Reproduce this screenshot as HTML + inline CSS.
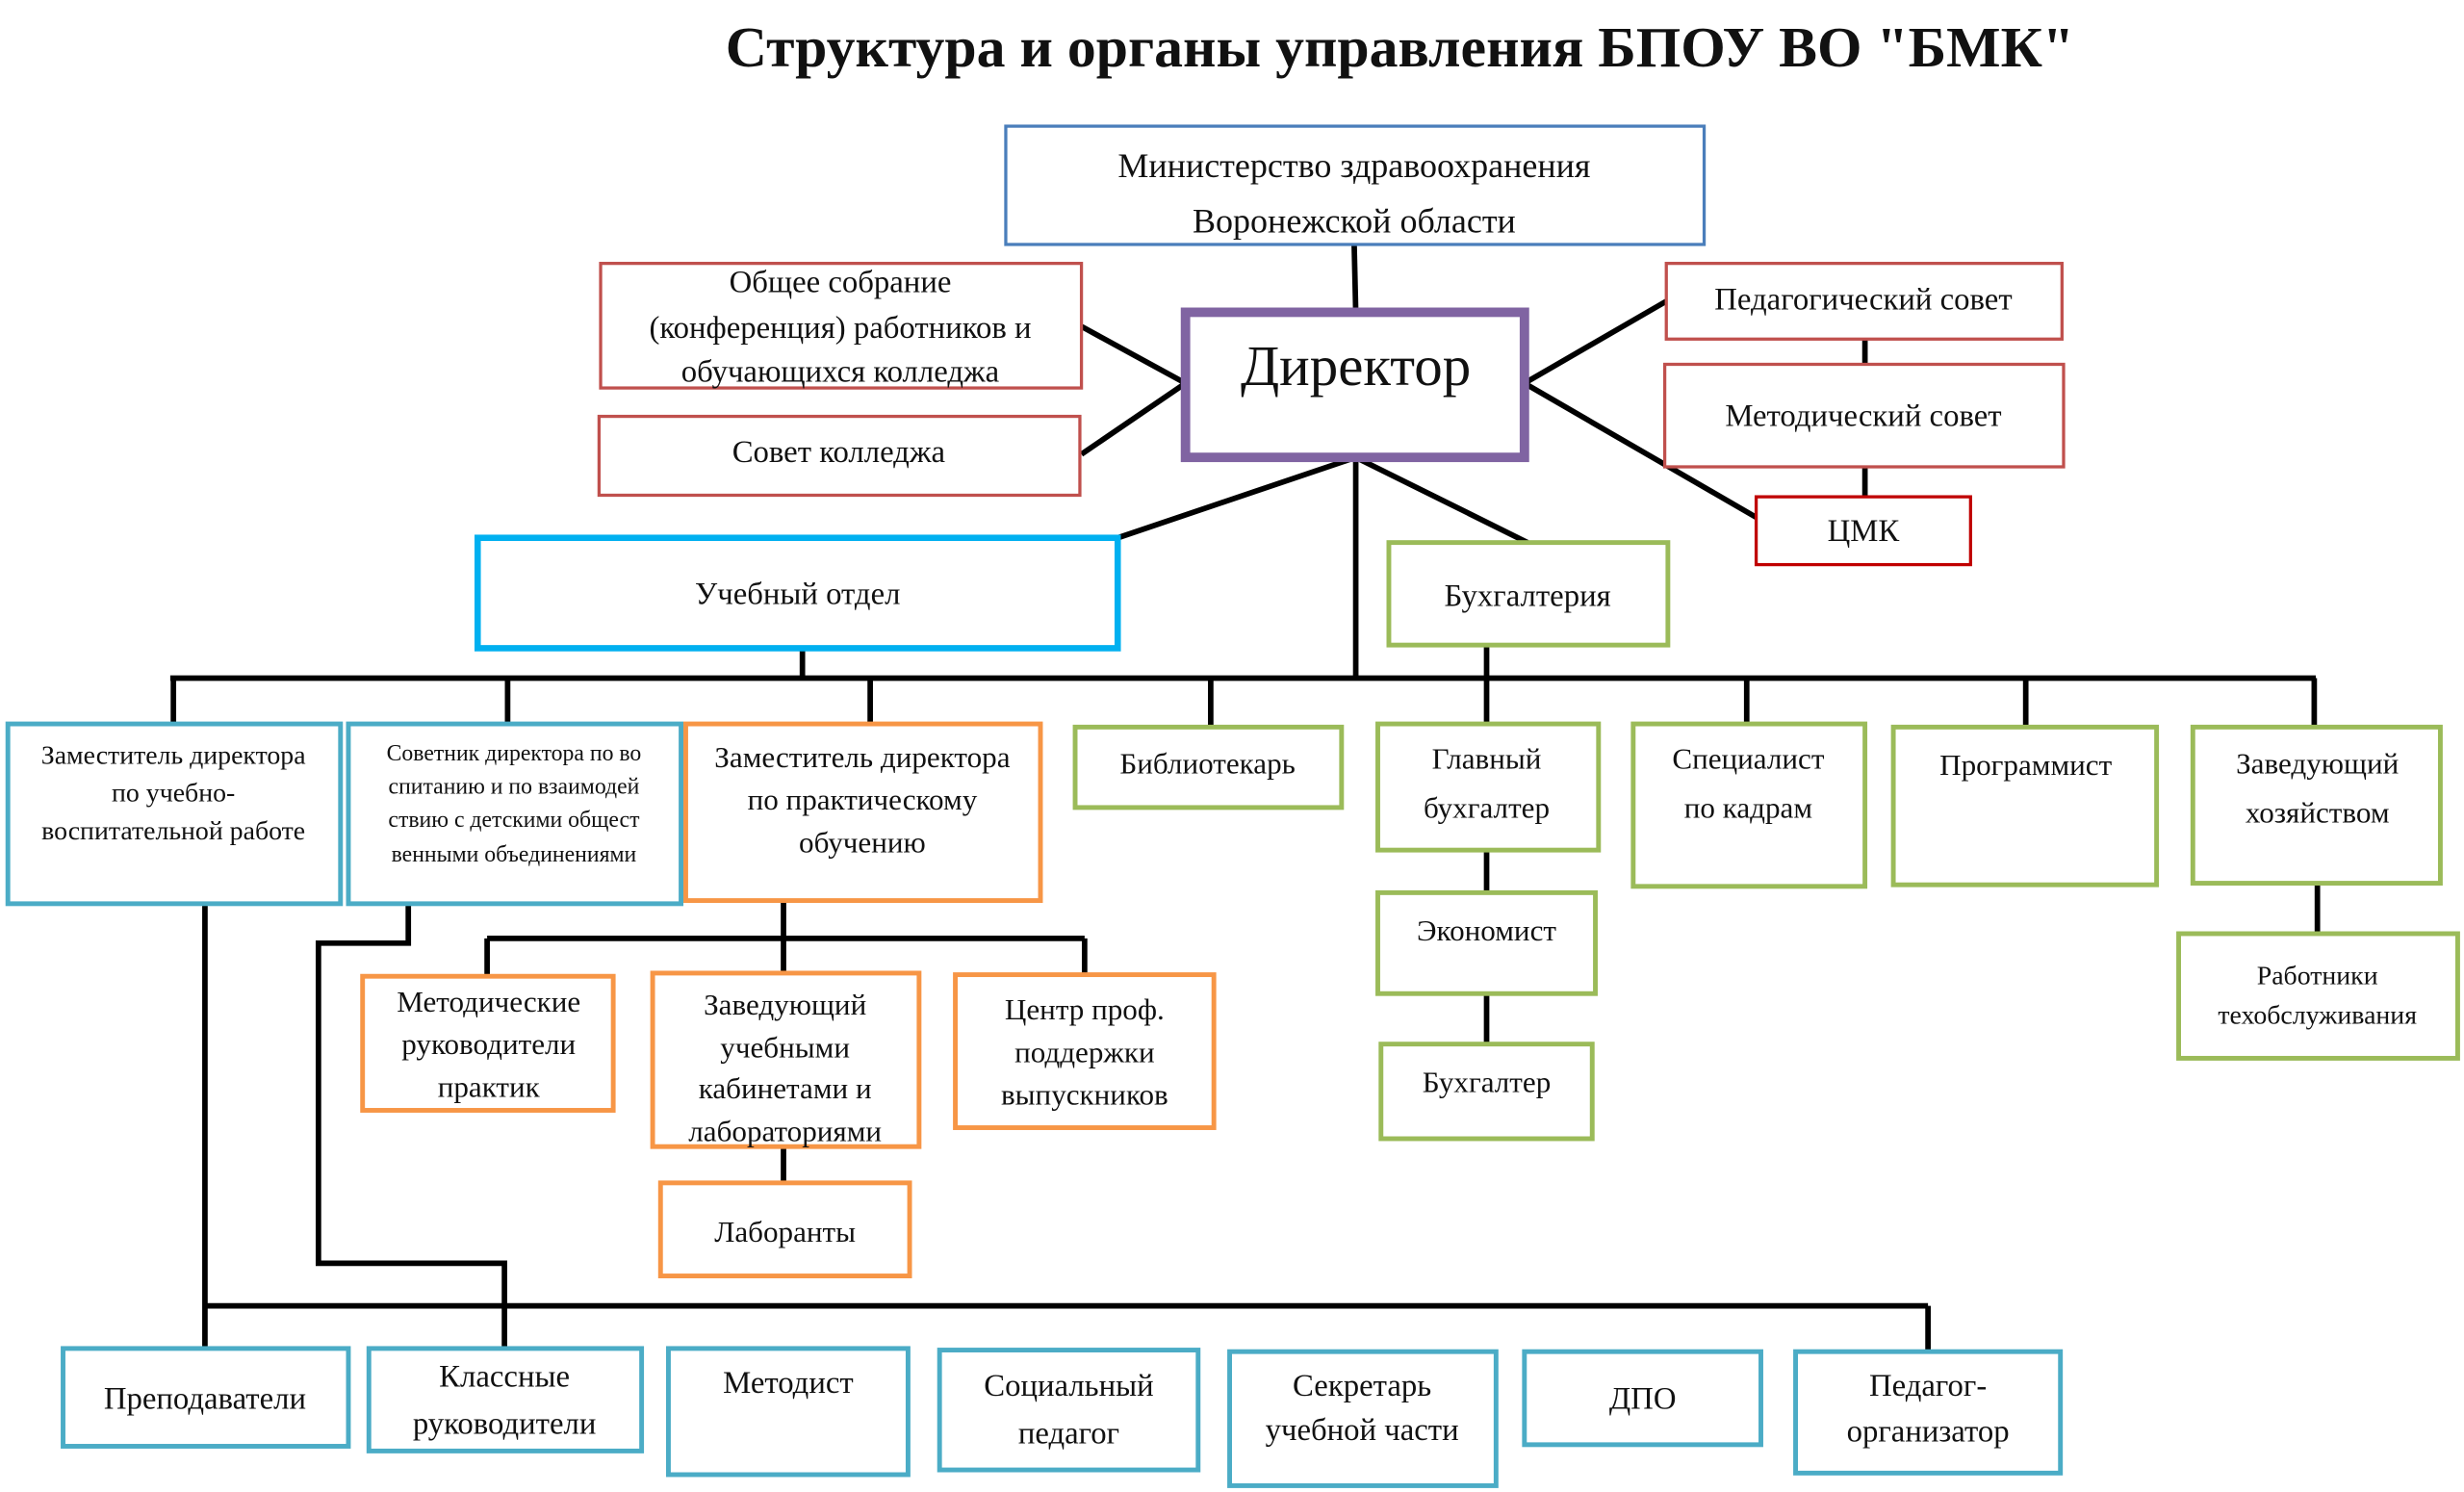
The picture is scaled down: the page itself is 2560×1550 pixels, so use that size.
<!DOCTYPE html>
<html><head><meta charset="utf-8"><style>
html,body{margin:0;padding:0;background:#fff;width:2560px;height:1550px;overflow:hidden}
svg{display:block}
text{font-family:"Liberation Serif","DejaVu Serif",serif;fill:#111;text-anchor:middle;dominant-baseline:central}
</style></head><body>
<svg width="2560" height="1550" viewBox="0 0 1563 946" preserveAspectRatio="none" xmlns="http://www.w3.org/2000/svg">
<rect width="1563" height="946" fill="#fff"/>
<text x="888" y="30" font-size="36.5" font-weight="bold">Структура и органы управления БПОУ ВО "БМК"</text>

<g stroke="#000" stroke-width="3.5" fill="none">
<line x1="859" y1="155" x2="860" y2="198"/>
<line x1="752" y1="243" x2="686" y2="207"/>
<line x1="752" y1="243" x2="686" y2="288"/>
<line x1="967" y1="243" x2="1057" y2="191"/>
<line x1="967" y1="243" x2="1114" y2="328"/>
<line x1="1183" y1="215" x2="1183" y2="231"/>
<line x1="1183" y1="296" x2="1183" y2="315"/>
<line x1="860" y1="290" x2="709" y2="341"/>
<line x1="860" y1="290" x2="969" y2="344"/>
<line x1="860" y1="290" x2="860" y2="430"/>
<line x1="108" y1="430" x2="1469" y2="430"/>
<line x1="509" y1="411" x2="509" y2="430"/>
<line x1="943" y1="409" x2="943" y2="459"/>
<line x1="110" y1="430" x2="110" y2="459"/>
<line x1="322" y1="430" x2="322" y2="459"/>
<line x1="552" y1="430" x2="552" y2="459"/>
<line x1="768" y1="430" x2="768" y2="461"/>
<line x1="1108" y1="430" x2="1108" y2="459"/>
<line x1="1285" y1="430" x2="1285" y2="461"/>
<line x1="1468" y1="430" x2="1468" y2="461"/>
<line x1="943" y1="539" x2="943" y2="566"/>
<line x1="943" y1="630" x2="943" y2="662"/>
<line x1="1470" y1="560" x2="1470" y2="592"/>
<line x1="497" y1="571" x2="497" y2="617"/>
<line x1="309" y1="595" x2="688" y2="595"/>
<line x1="309" y1="595" x2="309" y2="619"/>
<line x1="688" y1="595" x2="688" y2="618"/>
<line x1="497" y1="727" x2="497" y2="750"/>
<line x1="130" y1="573" x2="130" y2="855"/>
<polyline points="259,573 259,598 202,598 202,801 320,801 320,855"/>
<line x1="130" y1="828" x2="1223" y2="828"/>
<line x1="1223" y1="828" x2="1223" y2="857"/>
</g>

<g fill="#fff">
<rect x="638" y="80" width="443" height="75" stroke="#4a7ebb" stroke-width="2"/>
<rect x="752" y="198" width="215" height="92" stroke="#8064a2" stroke-width="6"/>
<rect x="381" y="167" width="305" height="79" stroke="#c0504d" stroke-width="2"/>
<rect x="380" y="264" width="305" height="50" stroke="#c0504d" stroke-width="2"/>
<rect x="1057" y="167" width="251" height="48" stroke="#c0504d" stroke-width="2"/>
<rect x="1056" y="231" width="253" height="65" stroke="#c0504d" stroke-width="2"/>
<rect x="1114" y="315" width="136" height="43" stroke="#c00000" stroke-width="2"/>
<rect x="303" y="341" width="406" height="70" stroke="#00b0f0" stroke-width="4"/>
<rect x="881" y="344" width="177" height="65" stroke="#9bbb59" stroke-width="3"/>
<g stroke="#4bacc6" stroke-width="3">
<rect x="5" y="459" width="211" height="114"/>
<rect x="221" y="459" width="211" height="114"/>
<rect x="40" y="855" width="181" height="62"/>
<rect x="234" y="855" width="173" height="65"/>
<rect x="424" y="855" width="152" height="80"/>
<rect x="596" y="856" width="164" height="76"/>
<rect x="780" y="857" width="169" height="85"/>
<rect x="967" y="857" width="150" height="59"/>
<rect x="1139" y="857" width="168" height="77"/>
</g>
<g stroke="#f79646" stroke-width="3">
<rect x="435" y="459" width="225" height="112"/>
<rect x="230" y="619" width="159" height="85"/>
<rect x="414" y="617" width="169" height="110"/>
<rect x="606" y="618" width="164" height="97"/>
<rect x="419" y="750" width="158" height="59"/>
</g>
<g stroke="#9bbb59" stroke-width="3">
<rect x="682" y="461" width="169" height="51"/>
<rect x="874" y="459" width="140" height="80"/>
<rect x="1036" y="459" width="147" height="103"/>
<rect x="1201" y="461" width="167" height="100"/>
<rect x="1391" y="461" width="157" height="99"/>
<rect x="1382" y="592" width="177" height="79"/>
<rect x="874" y="566" width="138" height="64"/>
<rect x="876" y="662" width="134" height="60"/>
</g>
</g>

<g font-size="22">
<text x="859" y="105">Министерство здравоохранения</text>
<text x="859" y="140">Воронежской области</text>
</g>
<text x="860" y="232" font-size="36">Директор</text>
<g font-size="20">
<text x="533" y="179">Общее собрание</text>
<text x="533" y="208">(конференция) работников и</text>
<text x="533" y="236">обучающихся колледжа</text>
<text x="532" y="287">Совет колледжа</text>
<text x="1182" y="190">Педагогический совет</text>
<text x="1182" y="264">Методический совет</text>
<text x="1182" y="337">ЦМК</text>
<text x="506" y="377">Учебный отдел</text>
<text x="969" y="378">Бухгалтерия</text>
</g>
<g font-size="17">
<text x="110" y="479">Заместитель директора</text>
<text x="110" y="503">по учебно-</text>
<text x="110" y="527">воспитательной работе</text>
</g>
<g font-size="14.5">
<text x="326" y="478">Советник директора по во</text>
<text x="326" y="499">спитанию и по взаимодей</text>
<text x="326" y="520">ствию с детскими общест</text>
<text x="326" y="542">венными объединениями</text>
</g>
<g font-size="19">
<text x="547" y="480">Заместитель директора</text>
<text x="547" y="507">по практическому</text>
<text x="547" y="534">обучению</text>
<text x="766" y="484">Библиотекарь</text>
<text x="943" y="481">Главный</text>
<text x="943" y="512">бухгалтер</text>
<text x="1109" y="481">Специалист</text>
<text x="1109" y="512">по кадрам</text>
<text x="1285" y="485">Программист</text>
<text x="1470" y="484">Заведующий</text>
<text x="1470" y="515">хозяйством</text>
<text x="943" y="590">Экономист</text>
<text x="943" y="686">Бухгалтер</text>
<text x="310" y="635">Методические</text>
<text x="310" y="662">руководители</text>
<text x="310" y="689">практик</text>
<text x="498" y="637">Заведующий</text>
<text x="498" y="664">учебными</text>
<text x="498" y="690">кабинетами и</text>
<text x="498" y="717">лабораториями</text>
<text x="688" y="640">Центр проф.</text>
<text x="688" y="667">поддержки</text>
<text x="688" y="694">выпускников</text>
<text x="498" y="781">Лаборанты</text>
</g>
<g font-size="17">
<text x="1470" y="619">Работники</text>
<text x="1470" y="644">техобслуживания</text>
</g>
<g font-size="20">
<text x="130" y="887">Преподаватели</text>
<text x="320" y="873">Классные</text>
<text x="320" y="903">руководители</text>
<text x="500" y="877">Методист</text>
<text x="678" y="879">Социальный</text>
<text x="678" y="909">педагог</text>
<text x="864" y="879">Секретарь</text>
<text x="864" y="907">учебной части</text>
<text x="1042" y="887">ДПО</text>
<text x="1223" y="879">Педагог-</text>
<text x="1223" y="908">организатор</text>
</g>
</svg>
</body></html>
